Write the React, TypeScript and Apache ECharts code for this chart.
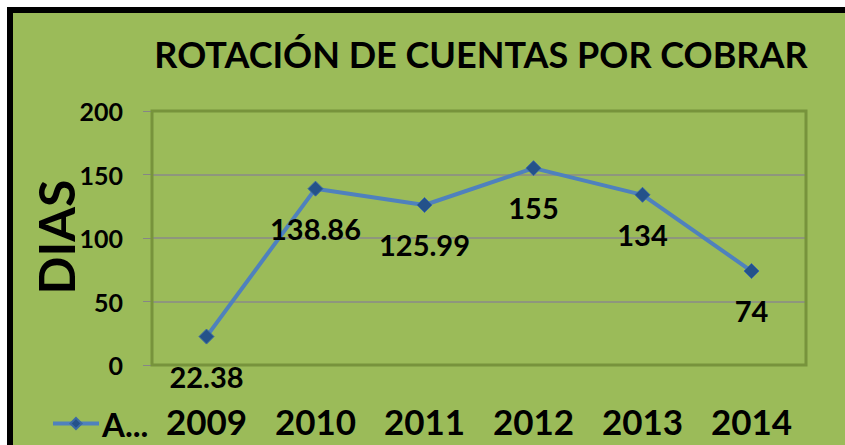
import React, { useEffect, useRef } from "react";
import * as echarts from "echarts";

const years = ["2009", "2010", "2011", "2012", "2013", "2014"];
const days = [22.38, 138.86, 125.99, 155, 134, 74];
const dayLabels = ["22.38", "138.86", "125.99", "155", "134", "74"];
const seriesName = "A...";
const titleText = "ROTACIÓN DE CUENTAS POR COBRAR";
const yTitle = "DIAS";

export default function App() {
  const ref = useRef<HTMLDivElement>(null);
  useEffect(() => {
    document.body.style.margin = "0";
    const chart = echarts.init(ref.current!, null, { renderer: "svg" });
    const font = "Lato";
    const gridBox = { left: 152, top: 111, right: 39, bottom: 80 };
    const gw = 845 - gridBox.left - gridBox.right;
    const gh = 445 - gridBox.top - gridBox.bottom;
    chart.setOption({
      animation: false,
      backgroundColor: "#ffffff",
      graphic: [
        { type: "rect", z: -10, silent: true, shape: { x: 7, y: 7, width: 845, height: 445 }, style: { fill: "#000000" } },
        { type: "rect", z: -9, silent: true, shape: { x: 13, y: 13, width: 845, height: 445 }, style: { fill: "#9BBB59" } },
        {
          type: "text",
          x: 481,
          y: 54,
          style: { text: titleText, fontFamily: font, fontWeight: "bold", fontSize: 36, fill: "#000", align: "center", verticalAlign: "middle" },
        },
        {
          type: "text",
          x: 56,
          y: 237,
          rotation: Math.PI / 2,
          style: { text: yTitle, fontFamily: font, fontWeight: "bold", fontSize: 50, fill: "#000", align: "center", verticalAlign: "middle" },
        },
        {
          type: "rect",
          z: 1,
          silent: true,
          shape: { x: gridBox.left, y: gridBox.top, width: gw, height: gh },
          style: { fill: "none", stroke: "#77933C", lineWidth: 3 },
        },
      ],
      legend: {
        left: 46,
        top: 402,
        itemWidth: 46,
        itemHeight: 14,
        itemGap: 2,
        data: [{ name: seriesName }],
        lineStyle: { width: 4 },
        textStyle: { fontFamily: font, fontWeight: "bold", fontSize: 33, color: "#000", padding: [0, 0, 0, -2] },
      },
      grid: gridBox,
      xAxis: {
        type: "category",
        data: years,
        boundaryGap: true,
        axisLine: { show: false },
        axisTick: { show: false },
        axisLabel: { fontFamily: font, fontWeight: "bold", fontSize: 35, color: "#000", margin: 38 },
      },
      yAxis: {
        type: "value",
        min: 0,
        max: 200,
        interval: 50,
        axisLine: { show: false },
        axisTick: { show: true, length: 9, lineStyle: { color: "#868686" } },
        axisLabel: { fontFamily: font, fontWeight: "bold", fontSize: 25, color: "#000", margin: 29 },
        splitLine: { lineStyle: { color: "#8a8a8a", width: 1.5 } },
      },
      series: [
        {
          name: seriesName,
          type: "line",
          data: days,
          symbol: "diamond",
          symbolSize: 15,
          lineStyle: { color: "#4F81BD", width: 4 },
          itemStyle: { color: "#24528A", borderColor: "#3B6AA5", borderWidth: 1 },
          label: {
            show: true,
            position: "bottom",
            distance: 17,
            formatter: (p: any) => dayLabels[p.dataIndex],
            fontFamily: font,
            fontWeight: "bold",
            fontSize: 29,
            color: "#000",
          },
        },
      ],
    });
    return () => chart.dispose();
  }, []);
  return <div ref={ref} style={{ width: 845, height: 445 }} />;
}
